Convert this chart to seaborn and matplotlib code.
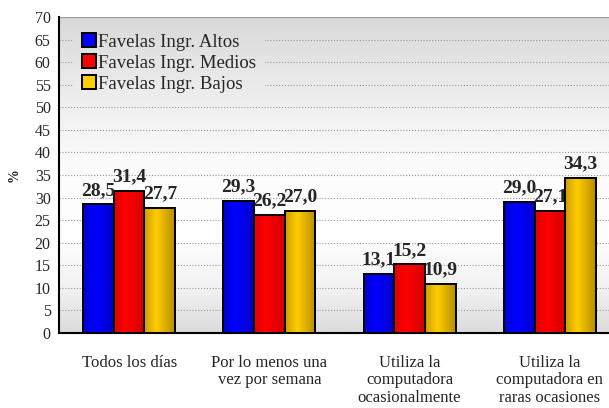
import numpy as np
import pandas as pd
import matplotlib
matplotlib.use("Agg")
import matplotlib.pyplot as plt
from matplotlib.patches import Patch
import seaborn as sns

categories = [
    "Todos los días",
    "Por lo menos una\nvez por semana",
    "Utiliza la\ncomputadora\nocasionalmente",
    "Utiliza la\ncomputadora en\nraras ocasiones",
]
series = ["Favelas Ingr. Altos", "Favelas Ingr. Medios", "Favelas Ingr. Bajos"]
altos = [28.5, 29.3, 13.1, 29.0]
medios = [31.4, 26.2, 15.2, 27.1]
bajos = [27.7, 27.0, 10.9, 34.3]
y_ticks = list(range(0, 75, 5))

colors = ["#0000ff", "#ff0000", "#ffcc00"]
# horizontal shading across each bar (left, bright, right)
shades = [
    [(0.0, 0.0, 0.82), (0.0, 0.0, 1.0), (0.0, 0.0, 0.80)],
    [(0.88, 0.0, 0.0), (1.0, 0.0, 0.0), (0.82, 0.0, 0.0)],
    [(0.80, 0.62, 0.0), (1.0, 0.80, 0.0), (0.72, 0.56, 0.0)],
]

df = pd.DataFrame({
    "cat": np.repeat(categories, 3),
    "serie": series * len(categories),
    "val": [v for trio in zip(altos, medios, bajos) for v in trio],
})

sns.set_theme(style="white")
plt.rcParams["font.family"] = ["Liberation Serif", "DejaVu Serif"]

fig = plt.figure(figsize=(6.09, 4.08), dpi=100)
ax = fig.add_axes([59 / 609, 1 - 333 / 408, 561 / 609, 316 / 408])

sns.barplot(data=df, x="cat", y="val", hue="serie", order=categories,
            hue_order=series, palette=colors, width=0.656, gap=0,
            edgecolor="black", linewidth=1.4, ax=ax, legend=False,
            errorbar=None, saturation=1)

# background: soft vertical grey-white-grey gradient
stops_v = [0, 10, 22, 38, 55, 70]
stops_g = [0.86, 0.95, 1.0, 0.985, 0.92, 0.85]


def grey_strip(y0, y1, n=200):
    yy = np.linspace(y0, y1, n)
    gv = np.interp(yy, stops_v, stops_g)
    return np.repeat(np.stack([gv, gv, gv], axis=-1)[:, None, :], 2, axis=1)


ax.imshow(grey_strip(0, 70), extent=(-0.5, 3.5, 0, 70), origin="lower",
          aspect="auto", zorder=0, interpolation="bilinear")

# shaded bar faces
for ci, cont in enumerate(ax.containers):
    cols = np.array(shades[ci])
    xs = np.linspace(0, 1, 40)
    grad = np.stack([np.interp(xs, [0, 0.4, 1], cols[:, k]) for k in range(3)], axis=-1)
    img_arr = grad[None, :, :].repeat(2, axis=0)
    for p in cont.patches:
        x0, w, h = p.get_x(), p.get_width(), p.get_height()
        p.set_zorder(3)
        p.set_facecolor("none")
        im = ax.imshow(img_arr, extent=(x0, x0 + w, 0, h), aspect="auto",
                       zorder=2.9, interpolation="bilinear")
        im.set_clip_path(p)
    vals = [p.get_height() for p in cont.patches]
    ax.bar_label(cont, labels=[f"{v:.1f}".replace(".", ",") for v in vals],
                 padding=4, fontsize=14, fontweight="bold", zorder=5)

ax.set_xlim(-0.5, 3.5)
ax.set_ylim(0, 70)

# dotted grid
for t in y_ticks[1:-1]:
    ax.axhline(t, color="#9a9a9a", linestyle=(0, (1, 1.6)), linewidth=0.8, zorder=1)
ax.axhline(70, color="#9a9a9a", linewidth=1.6, zorder=1)

ax.set_yticks(y_ticks)
ax.set_yticklabels([str(t) for t in y_ticks], fontsize=11.5)
ax.set_xticks([-0.5, 0.5, 1.5, 2.5, 3.5])
ax.set_xticklabels([])
ax.set_xticks(range(len(categories)), minor=True)
ax.set_xticklabels(categories, minor=True, fontsize=12, linespacing=1.1)
ax.tick_params(axis="x", which="minor", length=0, pad=16)
ax.tick_params(axis="x", which="major", length=5, width=1.2, color="black", direction="out")
ax.tick_params(axis="y", length=4, width=1.2, color="black", direction="out", pad=2)
ax.set_xlabel("")
ax.set_ylabel("%", fontsize=10, fontweight="bold", labelpad=10)

for side in ["top", "right"]:
    ax.spines[side].set_visible(False)
for side in ["left", "bottom"]:
    ax.spines[side].set_color("black")
    ax.spines[side].set_linewidth(1.5)

handles = [Patch(facecolor=c, edgecolor="black", linewidth=1.4) for c in colors]
leg = ax.legend(handles, series, loc="upper left", bbox_to_anchor=(0.037, 0.955),
                fontsize=13.5, frameon=False, handlelength=0.75, handleheight=0.75,
                handletextpad=0.1, labelspacing=0.2, borderpad=0.1,
                borderaxespad=0)
leg.set_zorder(4)

# legend sits on a patch of the same background, hiding the grid behind it
fig.canvas.draw()
bb = leg.get_window_extent().transformed(ax.transData.inverted())
lx0, ly0, lx1, ly1 = bb.x0 - 0.05, bb.y0, bb.x1 + 0.05, bb.y1 + 0.5
ax.imshow(grey_strip(ly0, ly1, 50), extent=(lx0, lx1, ly0, ly1), origin="lower",
          aspect="auto", zorder=1.5, interpolation="bilinear")
ax.set_xlim(-0.5, 3.5)
ax.set_ylim(0, 70)

fig.savefig("out.png", dpi=100)
